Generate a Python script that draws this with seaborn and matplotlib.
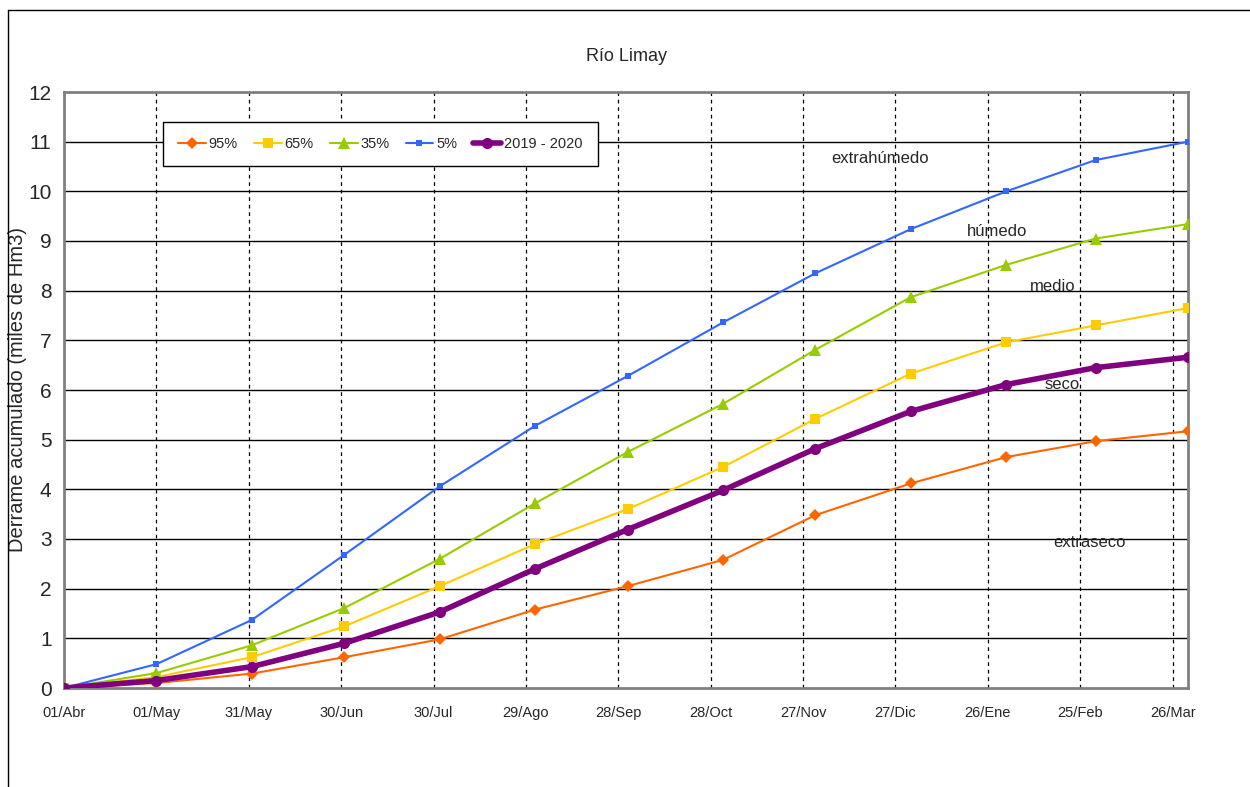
import pandas as pd
import matplotlib.pyplot as plt
import seaborn as sns
from matplotlib.lines import Line2D

# data
fechas = ["2019-04-01", "2019-05-01", "2019-06-01", "2019-07-01", "2019-08-01",
          "2019-09-01", "2019-10-01", "2019-11-01", "2019-12-01", "2020-01-01",
          "2020-02-01", "2020-03-01", "2020-03-31"]
p95 = [0, 0.10, 0.29, 0.62, 0.98, 1.58, 2.05, 2.58, 3.48, 4.12, 4.65, 4.97, 5.17]
p65 = [0, 0.22, 0.62, 1.24, 2.05, 2.90, 3.60, 4.45, 5.42, 6.33, 6.96, 7.30, 7.65]
p35 = [0, 0.30, 0.86, 1.61, 2.60, 3.72, 4.75, 5.72, 6.81, 7.87, 8.52, 9.05, 9.34]
p05 = [0, 0.48, 1.37, 2.68, 4.06, 5.28, 6.28, 7.36, 8.35, 9.24, 10.00, 10.63, 11.00]
y1920 = [0, 0.15, 0.43, 0.90, 1.53, 2.40, 3.19, 3.98, 4.82, 5.57, 6.11, 6.45, 6.66]

tick_labels = ["01/Abr", "01/May", "31/May", "30/Jun", "30/Jul", "29/Ago", "28/Sep",
               "28/Oct", "27/Nov", "27/Dic", "26/Ene", "25/Feb", "26/Mar"]

zonas = ["extrahúmedo", "húmedo", "medio", "seco", "extraseco"]
zonas_x = ["2019-12-22", "2020-01-29", "2020-02-16", "2020-02-19", "2020-02-28"]
zonas_y = [10.67, 9.20, 8.09, 6.12, 2.93]

df = pd.DataFrame({"fecha": pd.to_datetime(fechas), "95%": p95, "65%": p65,
                   "35%": p35, "5%": p05, "2019 - 2020": y1920})

sns.set_style("white")
plt.rcParams["font.family"] = ["Liberation Sans", "DejaVu Sans"]

fig = plt.figure(figsize=(12.5, 7.87), dpi=100)
ax = fig.add_axes([64 / 1250, 99 / 787, 1124 / 1250, 596 / 787])

estilos = {
    "95%": dict(color="#FF6600", marker="D", markersize=6, linewidth=1.5),
    "65%": dict(color="#FFCC00", marker="s", markersize=7, linewidth=1.5),
    "35%": dict(color="#99CC00", marker="^", markersize=9, linewidth=1.5),
    "5%": dict(color="#3366FF", marker="s", markersize=5, linewidth=1.5),
    "2019 - 2020": dict(color="#800080", marker="o", markersize=8, linewidth=4),
}
for serie, st in estilos.items():
    sns.lineplot(data=df, x="fecha", y=serie, ax=ax, label=serie,
                 markeredgewidth=0, zorder=3, **st)

ticks = pd.date_range("2019-04-01", periods=13, freq="30D")
ax.set_xticks(ticks)
ax.set_xticklabels(tick_labels, fontsize=10.5)
ax.set_xlim(pd.Timestamp("2019-04-01"), pd.Timestamp("2020-03-31"))
ax.set_ylim(0, 12)
ax.set_yticks(range(0, 13))
ax.tick_params(axis="y", labelsize=15, length=5, width=1, color="#444444", pad=4)
ax.tick_params(axis="x", length=5, width=1.5, color="#555555", pad=8)

for t in ticks:
    ax.axvline(t, color="black", linestyle=(0, (3, 3)), linewidth=0.9, zorder=1)
for v in range(1, 12):
    ax.axhline(v, color="black", linewidth=1, zorder=1)

for s in ax.spines.values():
    s.set_color("#808080")
    s.set_linewidth(2)

ax.set_xlabel("")
ax.set_ylabel("Derrame acumulado (miles de Hm3)", fontsize=14.5)
ax.yaxis.set_label_coords(-0.033, 0.5)
ax.set_title("Río Limay", fontsize=13, pad=22)

for txt, zx, zy in zip(zonas, zonas_x, zonas_y):
    ax.text(pd.Timestamp(zx), zy, txt, fontsize=12, ha="center", va="center", zorder=2)

leg = ax.legend(loc="upper left", bbox_to_anchor=(0.088, 0.95), ncol=5, fontsize=10.5,
                frameon=True, fancybox=False, edgecolor="black", framealpha=1,
                borderaxespad=0, handlelength=1.9, columnspacing=1.1, borderpad=1.05,
                handletextpad=0.2)
leg.get_frame().set_linewidth(1)

# outer border of the chart area
fig.add_artist(Line2D([8 / 1250, 8 / 1250], [0, 1 - 10 / 787], color="black", linewidth=1))
fig.add_artist(Line2D([8 / 1250, 1], [1 - 10 / 787, 1 - 10 / 787], color="black", linewidth=1))

fig.savefig("out.png", dpi=100)
